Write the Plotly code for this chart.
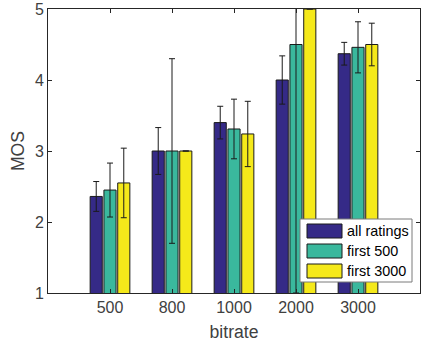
import plotly.graph_objects as go

categories = ["500", "800", "1000", "2000", "3000"]
series_names = ["all ratings", "first 500", "first 3000"]
all_ratings = [2.36, 3.00, 3.40, 4.00, 4.37]
all_ratings_err = [0.21, 0.33, 0.23, 0.34, 0.16]
first_500 = [2.45, 3.00, 3.31, 4.50, 4.46]
first_500_err = [0.38, 1.30, 0.42, 3.50, 0.36]
first_3000 = [2.55, 3.00, 3.24, 5.00, 4.50]
first_3000_err = [0.49, 0.0, 0.46, 0.0, 0.30]
y_ticks = [1, 2, 3, 4, 5]

colors = ["#352A87", "#3AB89D", "#F5E91A"]
values = [all_ratings, first_500, first_3000]
errors = [all_ratings_err, first_500_err, first_3000_err]
positions = list(range(1, len(categories) + 1))

axis_col = "#262626"
font_fam = "Liberation Sans, Arial, sans-serif"

fig = go.Figure()
for name, v, e, c in zip(series_names, values, errors, colors):
    fig.add_trace(go.Bar(
        x=positions, y=v, name=name,
        marker=dict(color=c, line=dict(color="#1a1a1a", width=1)),
        error_y=dict(type="data", array=e, symmetric=True, color="#1a1a1a",
                     thickness=1, width=3),
        showlegend=False,
    ))

W, H = 422, 349
ml, mr, mt, mb = 48, 2, 9, 56
pw, ph = W - ml - mr, H - mt - mb

def px2x(px):
    return (px - ml) / pw

def px2y(py):
    return (H - mb - py) / ph

shapes = []
annotations = []
# legend box
shapes.append(dict(type="rect", xref="paper", yref="paper",
                   x0=px2x(300), x1=px2x(412), y0=px2y(282), y1=px2y(219),
                   fillcolor="white", line=dict(color="#7a7a7a", width=1), layer="above"))
row_centers = [231, 251, 271]
for name, c, yc in zip(series_names, colors, row_centers):
    shapes.append(dict(type="rect", xref="paper", yref="paper",
                       x0=px2x(307), x1=px2x(342), y0=px2y(yc + 7), y1=px2y(yc - 7),
                       fillcolor=c, line=dict(color="#1a1a1a", width=1), layer="above"))
    annotations.append(dict(text=name, xref="paper", yref="paper",
                            x=px2x(345), y=px2y(yc), xanchor="left", yanchor="middle",
                            showarrow=False, font=dict(size=14.4, color="#000000", family=font_fam)))

fig.update_layout(
    width=W, height=H,
    margin=dict(l=ml, r=mr, t=mt, b=mb, autoexpand=False),
    paper_bgcolor="white", plot_bgcolor="white",
    barmode="group", bargap=0.333, bargroupgap=0.12,
    font=dict(family=font_fam, color=axis_col, size=16),
    shapes=shapes, annotations=annotations,
    xaxis=dict(range=[0, 6], tickmode="array", tickvals=positions, ticktext=categories,
               showline=True, linecolor=axis_col, linewidth=1, mirror="ticks",
               ticks="inside", ticklen=4, tickcolor=axis_col, showgrid=False, zeroline=False,
               automargin=False,
               tickfont=dict(size=16, color="#404040"),
               title=dict(text="bitrate", font=dict(size=17.6, color="#404040"), standoff=10)),
    yaxis=dict(range=[1, 5], tickvals=y_ticks,
               showline=True, linecolor=axis_col, linewidth=1, mirror="ticks",
               ticks="inside", ticklen=4, tickcolor=axis_col, showgrid=False, zeroline=False,
               automargin=False,
               tickfont=dict(size=16, color="#404040"),
               title=dict(text="MOS", font=dict(size=17.6, color="#404040"), standoff=5)),
)

fig.write_html("out.html", config={"displayModeBar": False},
               post_script="document.body.style.margin='0px';document.body.style.overflow='hidden';")
